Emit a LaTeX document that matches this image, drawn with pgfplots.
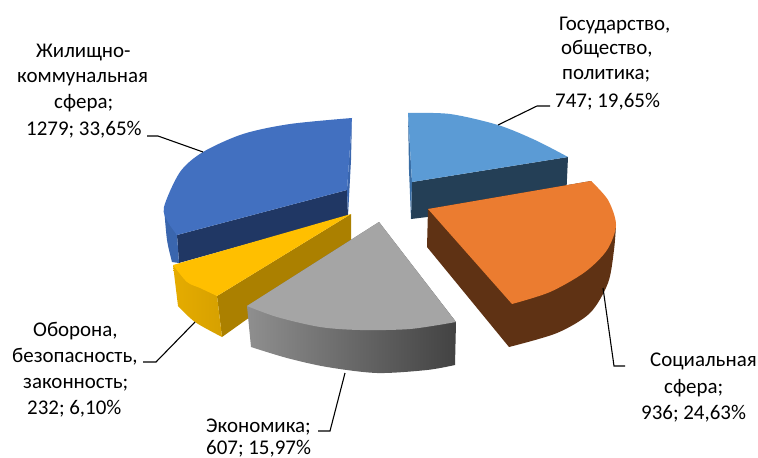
\documentclass[border=0pt]{standalone}
\usepackage{fontspec}
\setmainfont{Carlito}
\usepackage{pgfplots}
\pgfplotsset{compat=1.18}
\definecolor{sky}{HTML}{5B9BD5}
\definecolor{skydark}{HTML}{243F56}
\definecolor{skyedge}{HTML}{3A6EA5}
\definecolor{orangetop}{HTML}{EB7C30}
\definecolor{orangedark}{HTML}{5F3214}
\definecolor{bluetop}{HTML}{4270C0}
\definecolor{bluedark}{HTML}{203764}
\definecolor{blueedge}{HTML}{3A66AE}
\definecolor{yellowtop}{HTML}{FFBF00}
\definecolor{yellowdark}{HTML}{AB8000}
\definecolor{greytop}{HTML}{A5A5A5}

\newcommand{\lbl}[3]{\node[anchor=base west,inner sep=0pt,font=\fontsize{21}{25}\selectfont] at (axis cs:#1,#2) {#3};}

\begin{document}
\begin{tikzpicture}
\begin{axis}[
  width=758bp, height=458bp, scale only axis,
  xmin=0, xmax=758, ymin=0, ymax=458, y dir=reverse,
  hide axis, clip=false]
\addplot[draw=none] coordinates {(0,0) (758,458)};

% Gosudarstvo
\addplot[fill=skydark, draw=none] coordinates {(412,182) (568,157) (566,200) (411,219)} -- cycle;
\addplot[fill=skyedge, draw=none] coordinates {(408,113) (412,182) (411,219) (409,170)} -- cycle;
\addplot[fill=sky, draw=none, smooth] coordinates {(408,113) (450,114) (498,125) (535,140) (568,157)} -- (axis cs:412,182) -- cycle;

% Socialnaya
\addplot[fill=orangedark, draw=none, smooth] coordinates {(509,347) (557,333) (590,313) (608,283) (614,250) (616,225)} -- (axis cs:591,181) -- (axis cs:428,209) -- (axis cs:427,247) -- cycle;
\addplot[fill=orangetop, draw=none, smooth] coordinates {(591,181) (608,200) (616,225) (607,250) (585,272) (550,292) (512,304)} -- (axis cs:428,209) -- cycle;

% ZhKH
\addplot[fill=bluedark, draw=none] coordinates {(347,190) (177,235) (179,263) (348,216)} -- cycle;
\addplot[fill=blueedge, draw=none, smooth] coordinates {(164,207) (167,240) (172,262)} -- (axis cs:179,263) -- (axis cs:177,235) -- cycle;
\addplot[fill=blueedge, draw=none] coordinates {(352,118) (351,160) (348,216) (347,190)} -- cycle;
\addplot[fill=bluetop, draw=none, smooth] coordinates {(352,118) (290,124) (243,134) (203,152) (180,172) (164,207) (168,222) (177,235)} -- (axis cs:347,190) -- cycle;

% Oborona
\addplot[fill=yellowdark, draw=none] coordinates {(217,296) (351,214) (351,245) (222,337)} -- cycle;
\addplot[left color=yellowtop!90!black, right color=yellowtop!84!black, draw=none, smooth] coordinates {(178,306) (195,322) (222,337)} -- (axis cs:217,296) -- (axis cs:173,265) -- cycle;
\addplot[fill=yellowtop, draw=none, smooth] coordinates {(173,265) (187,282) (200,288) (217,296)} -- (axis cs:351,214) -- cycle;

% Ekonomika
\addplot[left color=black!44, right color=black!74, draw=none, smooth] coordinates {(251,347) (287,358) (327,367) (377,373) (427,370) (455,365)} -- (axis cs:456,322) -- (axis cs:379,222) -- (axis cs:247,306) -- cycle;
\addplot[fill=greytop, draw=none, smooth] coordinates {(247,306) (277,317) (320,327) (360,330) (410,329) (456,322)} -- (axis cs:379,222) -- cycle;

% leader lines
\addplot[black, line width=1.1pt] coordinates {(147,136) (158,136) (203,152)};
\addplot[black, line width=1.1pt] coordinates {(498,125) (537,106) (550,106)};
\addplot[black, line width=1.1pt] coordinates {(603,288) (614,366) (625,366)};
\addplot[black, line width=1.1pt] coordinates {(345,373) (330,431) (318,431)};
\addplot[black, line width=1.1pt] coordinates {(195,322) (156,362) (143,362)};

% labels
\lbl{559}{31}{Государство,}
\lbl{561}{55}{общество,}
\lbl{562}{80}{политика;}
\lbl{555}{107}{747; 19,65\%}
\lbl{36}{58}{Жилищно-}
\lbl{17}{83}{коммунальная}
\lbl{54}{108}{сфера;}
\lbl{26}{135}{1279; 33,65\%}
\lbl{33}{336}{Оборона,}
\lbl{12}{362}{безопасность,}
\lbl{23}{388}{законность;}
\lbl{27}{414}{232; 6,10\%}
\lbl{206}{432}{Экономика;}
\lbl{206}{454}{607; 15,97\%}
\lbl{650}{366}{Социальная}
\lbl{664}{393}{сфера;}
\lbl{641}{419}{936; 24,63\%}
\end{axis}
\end{tikzpicture}
\end{document}
